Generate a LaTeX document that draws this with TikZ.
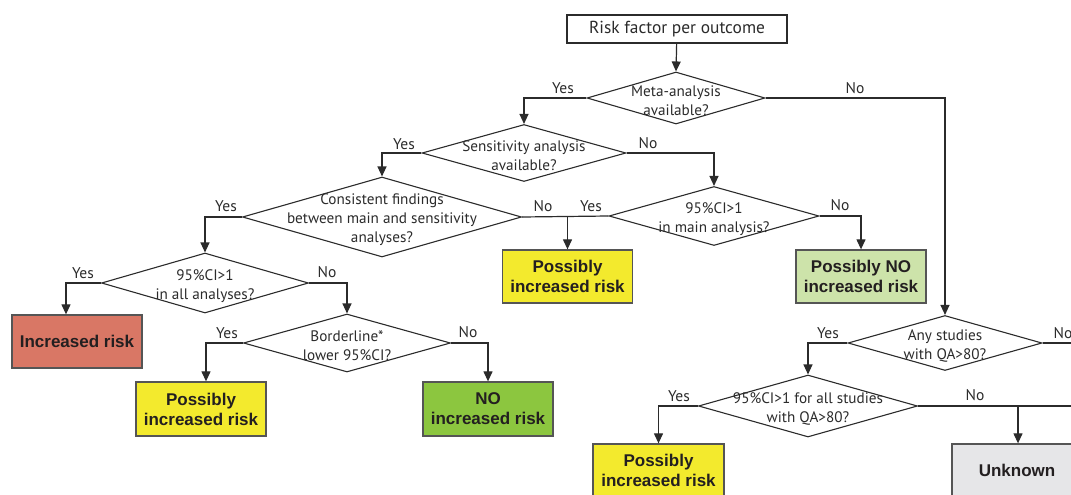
\documentclass[tikz,border=0pt]{standalone}
\usepackage{fontspec}
\setmainfont{PT Sans}
\newfontfamily\boxfont{Liberation Sans}
\usetikzlibrary{shapes.geometric,arrows.meta,calc}
\definecolor{linec}{HTML}{2B2B2B}
\definecolor{boxline}{HTML}{555555}
\definecolor{cred}{HTML}{D97765}
\definecolor{cyel}{HTML}{F3EA2D}
\definecolor{clgreen}{HTML}{CDE3AA}
\definecolor{cgreen}{HTML}{8CC63F}
\definecolor{cgrey}{HTML}{E6E6E8}
\begin{document}
\begin{tikzpicture}[x=1pt,y=-1pt,
  dia/.style={draw=linec, line width=1.1pt, shape=diamond, inner sep=0pt},
  dtext/.style={font=\fontsize{15.2}{19}\selectfont, align=center, text=linec, yshift=-3pt},
  lbl/.style={font=\fontsize{15.5}{18}\selectfont, text=linec},
  outbox/.style={draw=boxline, line width=1.3pt, minimum width=130pt, minimum height=53pt,
     font=\boxfont\bfseries\fontsize{17}{20}\selectfont, align=center, text={rgb,255:red,35;green,31;blue,32}},
  arr/.style={draw=linec, line width=1.2pt, -{Triangle[length=10pt,width=9pt]}},
  ln/.style={draw=linec, line width=1.2pt}]
\useasboundingbox (0,0) rectangle (1071,495);
\clip (0,0) rectangle (1071,495);
% start
\node[draw=linec, line width=1.1pt, minimum width=220pt, minimum height=28pt,
  font=\fontsize{17.4}{20}\selectfont, text=linec] (start) at (677,29) {Risk factor per outcome};
% diamonds
\node[dia, minimum width=178pt, minimum height=52pt] (d1) at (676,98) {};
\node[dtext] at (d1) {Meta-analysis\\available?};
\node[dia, minimum width=204pt, minimum height=57pt] (d2) at (524,153) {};
\node[dtext] at (d2) {Sensitivity analysis\\available?};
\node[dia, minimum width=279pt, minimum height=80pt] (d3) at (382,217) {};
\node[dtext] at (d3) {Consistent findings\\between main and sensitivity\\analyses?};
\node[dia, minimum width=210pt, minimum height=59pt] (d4) at (714,216) {};
\node[dtext] at (d4) {95\%CI>1\\in main analysis?};
\node[dia, minimum width=207pt, minimum height=60pt] (d5) at (205,283) {};
\node[dtext] at (d5) {95\%CI>1\\in all analyses?};
\node[dia, minimum width=207pt, minimum height=58pt] (d6) at (347,343) {};
\node[dtext] at (d6) {Borderline*\\lower 95\%CI?};
\node[dia, minimum width=194pt, minimum height=55pt] (d7) at (945,343) {};
\node[dtext] at (d7) {Any studies\\with QA>80?};
\node[dia, minimum width=219pt, minimum height=62pt] (d8) at (808,406) {};
\node[dtext] at (d8) {95\%CI>1 for all studies\\with QA>80?};
% outcome boxes
\node[outbox, fill=cyel] (b1) at (567.5,276.5) {Possibly\\increased risk};
\node[outbox, fill=clgreen] (b2) at (861,276.5) {Possibly NO\\increased risk};
\node[outbox, fill=cred] (b3) at (77,341.5) {Increased risk};
\node[outbox, fill=cyel, minimum height=54pt] (b4) at (201,409) {Possibly\\increased risk};
\node[outbox, fill=cgreen, minimum height=54pt] (b5) at (488,409) {NO\\increased risk};
\node[outbox, fill=cyel, minimum width=131pt] (b6) at (658.5,470.5) {Possibly\\increased risk};
\node[outbox, fill=cgrey] (b7) at (1017,470.5) {Unknown};
\coordinate (e7) at (1085,343);
\coordinate (e8) at (1085,406);
% connectors
\draw[arr] (start) -- (d1.north);
\draw[arr] (d1.west) -| (d2.north);
\draw[arr] (d1.east) -| (d7.north);
\draw[arr] (d2.west) -| (d3.north);
\draw[arr] (d2.east) -| (d4.north);
\draw[arr] (d3.west) -| (d5.north);
\draw[ln] (d3.east) -- (d4.west);
\draw[arr] (b1.north |- d3.east) -- (b1.north);
\draw[arr] (d4.east) -| (b2.north);
\draw[arr] (d5.west) -| ([xshift=-11pt]b3.north);
\draw[arr] (d5.east) -| (d6.north);
\draw[arr] (d6.west) -| ([xshift=5pt]b4.north);
\draw[arr] (d6.east) -| (b5.north);
\draw[arr] (d7.west) -| (d8.north);
\draw[ln] (d7.east) -- (e7);
\draw[arr] (d8.west) -| (b6.north);
\draw[ln] (d8.east) -- (e8);
\draw[arr] ([xshift=1pt]b7.north |- d8.east) -- ([xshift=1pt]b7.north);
% labels
\node[lbl] at (563,88) {Yes};
\node[lbl] at (855,88) {No};
\node[lbl] at (404,144) {Yes};
\node[lbl] at (648,143) {No};
\node[lbl] at (226,206) {Yes};
\node[lbl] at (543,206) {No};
\node[lbl] at (591,206) {Yes};
\node[lbl] at (840,205) {No};
\node[lbl] at (83,273) {Yes};
\node[lbl] at (327,272) {No};
\node[lbl] at (227,333) {Yes};
\node[lbl] at (468,332) {No};
\node[lbl] at (828,333) {Yes};
\node[lbl] at (1063,333) {No};
\node[lbl] at (679,396) {Yes};
\node[lbl] at (975,395) {No};
\end{tikzpicture}
\end{document}
